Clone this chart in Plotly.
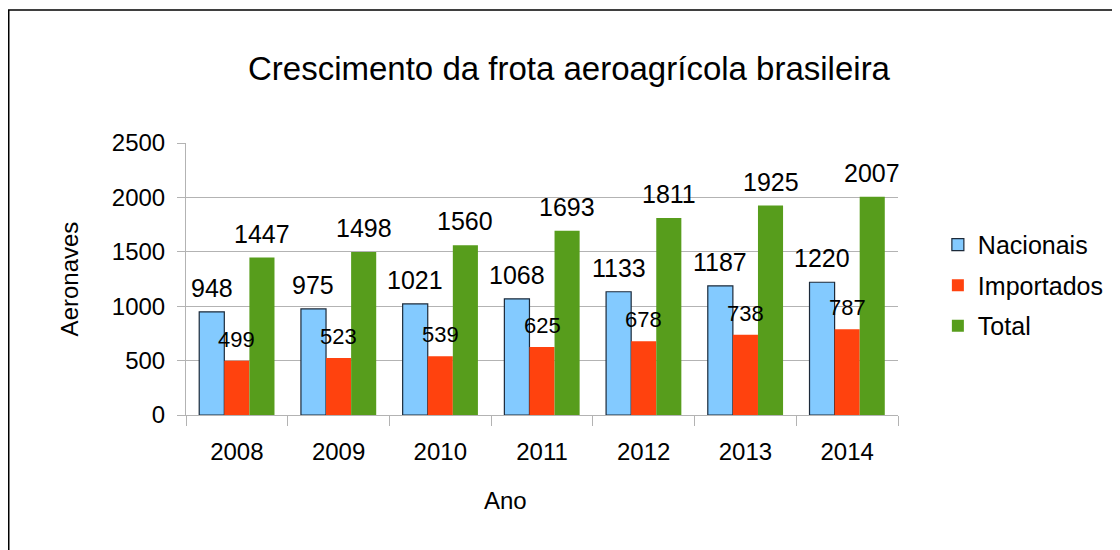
import plotly.graph_objects as go

anos = ["2008", "2009", "2010", "2011", "2012", "2013", "2014"]
nacionais = [948, 975, 1021, 1068, 1133, 1187, 1220]
importados = [499, 523, 539, 625, 678, 738, 787]
total = [1447, 1498, 1560, 1693, 1811, 1925, 2007]

FONT = "Liberation Sans, Arial, sans-serif"
W, H = 1112, 542
L, T, PW, PH = 178, 135, 712, 272

fig = go.Figure()
fig.add_trace(go.Bar(
    name="Nacionais", x=anos, y=nacionais, legendgroup="a",
    marker=dict(color="#83caff", line=dict(color="#1c2a3a", width=1.2)),
))
fig.add_trace(go.Bar(
    name="Importados", x=anos, y=importados, legendgroup="b",
    marker=dict(color="#ff420e", line=dict(width=0)),
))
fig.add_trace(go.Bar(
    name="Total", x=anos, y=total, legendgroup="c",
    marker=dict(color="#579d1c", line=dict(width=0)),
))

bar_w = PW / len(anos) * (1 - 0.26) / 3
for vals, shift, size, gap in [(nacionais, -bar_w, 25, 8),
                               (importados, 0, 22, 7),
                               (total, bar_w, 25, 8)]:
    for i, v in enumerate(vals):
        fig.add_annotation(x=i, y=v, text=str(v), showarrow=False,
                           xanchor="center", yanchor="bottom",
                           xshift=shift, yshift=gap,
                           font=dict(size=size, family=FONT, color="black"))

# x-axis title (placed left of centre as in the reference)
fig.add_annotation(text="Ano", xref="paper", yref="paper",
                   x=(497 - L) / PW, y=(PH + T - 492) / PH,
                   xanchor="center", yanchor="middle", showarrow=False,
                   font=dict(size=24, family=FONT, color="black"))

fig.update_layout(
    width=W, height=H,
    margin=dict(l=L, r=W - L - PW, t=T, b=H - T - PH, autoexpand=False),
    paper_bgcolor="white", plot_bgcolor="white",
    font=dict(family=FONT, color="black", size=24),
    barmode="group", bargap=0.26, bargroupgap=0,
    title=dict(text="Crescimento da frota aeroagrícola brasileira",
               x=561 / W, xanchor="center", y=1 - 60 / H, yanchor="middle",
               xref="container", yref="container",
               font=dict(size=33, family=FONT, color="black")),
    legend=dict(x=1.056, xanchor="left", y=0.71, yanchor="top",
                font=dict(size=25, family=FONT), bgcolor="rgba(0,0,0,0)",
                traceorder="grouped", tracegroupgap=5),
)
fig.update_yaxes(
    range=[0, 2500], dtick=500, showgrid=True, gridcolor="#b3b3b3", gridwidth=1,
    showline=True, linecolor="#b3b3b3", linewidth=1,
    ticks="outside", ticklen=8, tickcolor="#b3b3b3", ticklabelstandoff=7,
    tickfont=dict(size=24, family=FONT), zeroline=False,
    title=dict(text="Aeronaves", font=dict(size=24, family=FONT), standoff=26),
)
fig.update_xaxes(
    type="category", tickangle=0, range=[-0.5, len(anos) - 0.5],
    showgrid=False, showline=True, linecolor="#b3b3b3", linewidth=1,
    ticks="outside", ticklen=10, tickcolor="#b3b3b3", tickson="boundaries",
    ticklabelstandoff=15,
    tickfont=dict(size=24, family=FONT),
)
fig.add_shape(type="rect", xref="paper", yref="paper",
              x0=(0.75 - L) / PW, x1=1.5, y0=-0.8, y1=(PH + T - 2) / PH,
              line=dict(color="black", width=1.5), fillcolor="rgba(0,0,0,0)",
              layer="below")

fig.write_html("out.html")
